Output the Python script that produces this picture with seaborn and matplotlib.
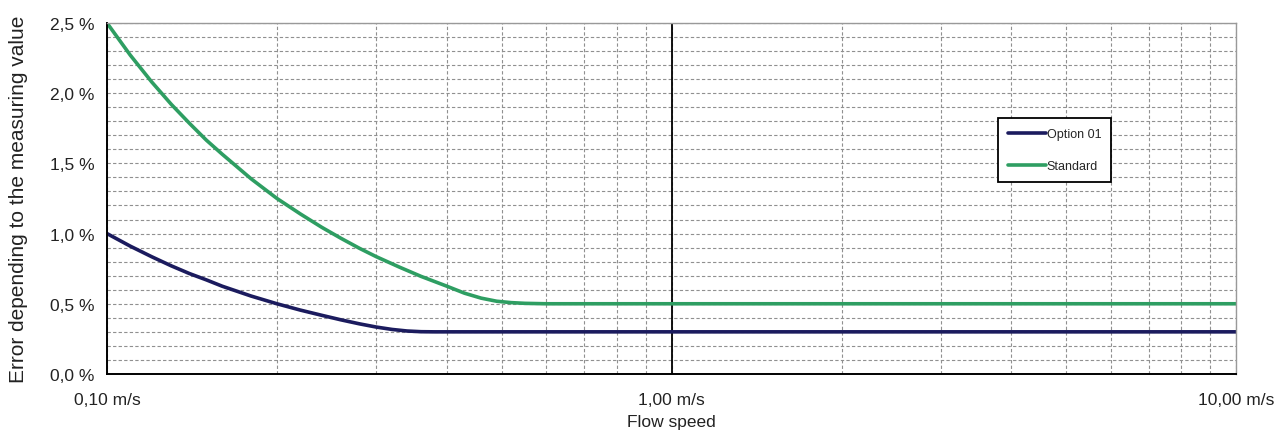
import numpy as np
import pandas as pd
import matplotlib.pyplot as plt
import matplotlib.ticker as mticker
import seaborn as sns

# flow speed (m/s) and error (%)
speed_option = [0.10, 0.11, 0.12, 0.13, 0.14, 0.15, 0.16, 0.18, 0.20, 0.22, 0.24, 0.26, 0.28, 0.30,
                0.32, 0.34, 0.36, 0.38, 0.40, 0.50, 1.0, 10.0]
err_option = [1.00, 0.91, 0.835, 0.77, 0.715, 0.67, 0.625, 0.555, 0.50, 0.455, 0.418, 0.385, 0.357, 0.334,
              0.317, 0.306, 0.301, 0.300, 0.30, 0.30, 0.30, 0.30]

speed_std = [0.10, 0.11, 0.12, 0.13, 0.14, 0.15, 0.16, 0.18, 0.20, 0.22, 0.24, 0.26, 0.28, 0.30,
             0.33, 0.36, 0.40, 0.43, 0.46, 0.49, 0.52, 0.55, 0.60, 0.70, 1.0, 10.0]
err_std = [2.50, 2.27, 2.08, 1.92, 1.785, 1.665, 1.565, 1.39, 1.25, 1.14, 1.045, 0.965, 0.895, 0.835,
           0.76, 0.695, 0.625, 0.575, 0.54, 0.518, 0.508, 0.503, 0.50, 0.50, 0.50, 0.50]

x_ticks = [0.1, 1.0, 10.0]
x_labels = ['0,10 m/s', '1,00 m/s', '10,00 m/s']
y_ticks = [0.0, 0.5, 1.0, 1.5, 2.0, 2.5]
y_labels = ['0,0 %', '0,5 %', '1,0 %', '1,5 %', '2,0 %', '2,5 %']

df = pd.concat([
    pd.DataFrame({'speed': speed_option, 'err': err_option, 'serie': 'Option 01'}),
    pd.DataFrame({'speed': speed_std, 'err': err_std, 'serie': 'Standard'}),
])

sns.set_style('white')
plt.rcParams['font.family'] = ['Liberation Sans', 'DejaVu Sans']

fig = plt.figure(figsize=(12.81, 4.35), dpi=100)
ax = fig.add_axes([0.0835, 0.138, 0.8815, 0.807])

sns.lineplot(data=df, x='speed', y='err', hue='serie', ax=ax,
             palette={'Option 01': '#1b1b5e', 'Standard': '#2e9e62'},
             linewidth=2.6, estimator=None, sort=True, legend=True)

ax.set_xscale('log')
ax.set_xlim(0.1, 10)
ax.set_ylim(0, 2.5)

ax.xaxis.set_major_locator(mticker.FixedLocator(x_ticks))
ax.xaxis.set_major_formatter(mticker.FixedFormatter(x_labels))
ax.xaxis.set_minor_locator(mticker.LogLocator(base=10, subs=np.arange(2, 10)))
ax.xaxis.set_minor_formatter(mticker.NullFormatter())
ax.set_yticks(y_ticks)
ax.set_yticklabels(y_labels)
ax.yaxis.set_minor_locator(mticker.MultipleLocator(0.1))

# gitter
ax.grid(which='both', axis='both', color='#909090', linestyle=(0, (3, 2)), linewidth=0.8)
ax.axvline(1.0, color='black', linewidth=1.3, zorder=1.5)

ax.tick_params(axis='both', which='major', direction='inout', length=6, width=1.2,
               colors='black', labelsize=12.5, labelcolor='#222222')
ax.tick_params(axis='both', which='minor', direction='inout', length=4, width=1.0, colors='black')
ax.tick_params(axis='x', pad=10)
ax.tick_params(axis='y', pad=6)

for side in ['left', 'bottom']:
    ax.spines[side].set_color('black')
    ax.spines[side].set_linewidth(1.4)
for side in ['top', 'right']:
    ax.spines[side].set_color('#999999')
    ax.spines[side].set_linewidth(1.0)

ax.set_xlabel('Flow speed', fontsize=12.5, color='#222222', labelpad=5)
ax.set_ylabel('Error depending to the measuring value', fontsize=15, color='#222222', labelpad=16)

leg = ax.legend(loc='upper left', bbox_to_anchor=(0.7895, 0.728), fontsize=9,
                frameon=True, fancybox=False, edgecolor='black', framealpha=1,
                handlelength=3.0, handletextpad=0.05, labelspacing=1.6,
                borderpad=0.8, borderaxespad=0)
leg.get_frame().set_linewidth(1.3)
leg.set_title(None)

plt.savefig('out.png', dpi=100)
